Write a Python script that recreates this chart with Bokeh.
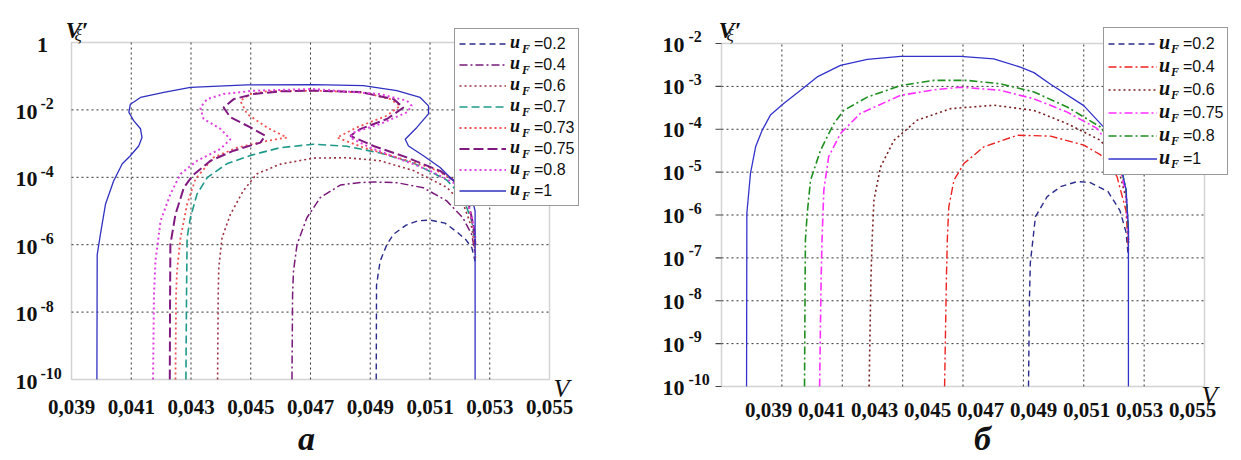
import numpy as np
from bokeh.plotting import figure
from bokeh.models import Range1d, Legend, LegendItem, Label, BoxAnnotation
from bokeh.layouts import row
from bokeh.embed import file_html
from bokeh.resources import INLINE

# ---------------- data ----------------
X_TICKS = [0.039, 0.041, 0.043, 0.045, 0.047, 0.049, 0.051, 0.053, 0.055]
A_Y_EXP = [0, -2, -4, -6, -8, -10]
B_Y_EXP = [-2, -3, -4, -5, -6, -7, -8, -9, -10]

A_LABELS = ["=0.2", "=0.4", "=0.6", "=0.7", "=0.73", "=0.75", "=0.8", "=1"]
B_LABELS = ["=0.2", "=0.4", "=0.6", "=0.75", "=0.8", "=1"]

# panel a : x values and log10(V'xi)
A_U02_X = [0.04920, 0.04921, 0.04933, 0.04956, 0.04978, 0.05020, 0.05060, 0.05100, 0.05150, 0.05190, 0.05220, 0.05240, 0.05251]
A_U02_LG = [-10.0, -7.20, -6.49, -5.99, -5.69, -5.42, -5.29, -5.27, -5.36, -5.62, -5.85, -6.09, -6.49]

A_U04_X = [0.04638, 0.04640, 0.04643, 0.04655, 0.04688, 0.04733, 0.04800, 0.04860, 0.04911, 0.04989, 0.05078, 0.05156, 0.05210, 0.05240, 0.05252]
A_U04_LG = [-10.0, -7.50, -6.79, -5.99, -5.20, -4.60, -4.23, -4.16, -4.14, -4.16, -4.31, -4.70, -5.20, -5.70, -6.30]

A_U06_X = [0.04389, 0.04391, 0.04393, 0.04404, 0.04432, 0.04475, 0.04520, 0.04599, 0.04710, 0.04822, 0.04933, 0.05045, 0.05156, 0.05212, 0.05240, 0.05252]
A_U06_LG = [-10.0, -7.50, -6.69, -5.79, -5.10, -4.40, -3.90, -3.61, -3.43, -3.42, -3.51, -3.80, -4.30, -4.80, -5.50, -6.20]

A_U07_X = [0.04283, 0.04285, 0.04287, 0.04298, 0.04320, 0.04355, 0.04420, 0.04499, 0.04599, 0.04710, 0.04822, 0.04933, 0.05045, 0.05156, 0.05210, 0.05240, 0.05252]
A_U07_LG = [-10.0, -7.50, -5.79, -5.20, -4.50, -4.00, -3.60, -3.35, -3.12, -3.02, -3.08, -3.28, -3.58, -4.08, -4.60, -5.30, -6.00]

A_U073_X = [0.04248, 0.04250, 0.04253, 0.04265, 0.04287, 0.04315, 0.04376, 0.04454, 0.04554, 0.04621, 0.04554, 0.04488, 0.04465, 0.04499, 0.04554, 0.04710, 0.04877, 0.04967, 0.05000, 0.04956, 0.04855, 0.04789, 0.04878, 0.04989, 0.05101, 0.05179, 0.05225, 0.05245, 0.05252]
A_U073_LG = [-10.0, -7.50, -6.79, -5.79, -4.80, -4.05, -3.41, -3.12, -2.92, -2.82, -2.52, -2.12, -1.73, -1.53, -1.45, -1.43, -1.48, -1.68, -1.88, -2.17, -2.52, -2.82, -3.12, -3.41, -3.71, -4.06, -4.70, -5.50, -6.40]

A_U075_X = [0.04229, 0.04230, 0.04231, 0.04248, 0.04276, 0.04305, 0.04365, 0.04443, 0.04532, 0.04549, 0.04499, 0.04432, 0.04409, 0.04443, 0.04510, 0.04599, 0.04710, 0.04866, 0.04978, 0.05011, 0.04956, 0.04866, 0.04833, 0.04911, 0.05022, 0.05134, 0.05190, 0.05230, 0.05247, 0.05252]
A_U075_LG = [-10.0, -7.50, -5.99, -5.10, -4.31, -3.95, -3.51, -3.21, -2.97, -2.77, -2.52, -2.22, -1.93, -1.68, -1.53, -1.45, -1.43, -1.47, -1.68, -1.93, -2.27, -2.57, -2.77, -3.07, -3.41, -3.81, -4.16, -4.80, -5.50, -6.00]

A_U08_X = [0.04173, 0.04176, 0.04181, 0.04198, 0.04231, 0.04265, 0.04320, 0.04398, 0.04432, 0.04398, 0.04342, 0.04331, 0.04354, 0.04409, 0.04510, 0.04710, 0.04933, 0.05023, 0.05039, 0.05023, 0.04933, 0.04844, 0.04833, 0.04900, 0.05000, 0.05101, 0.05178, 0.05228, 0.05246, 0.05252]
A_U08_LG = [-10.0, -7.50, -6.49, -5.30, -4.50, -3.90, -3.51, -3.16, -2.87, -2.56, -2.27, -1.93, -1.68, -1.53, -1.43, -1.38, -1.53, -1.73, -1.88, -2.07, -2.42, -2.67, -2.82, -3.12, -3.46, -3.81, -4.16, -4.80, -5.40, -5.80]

A_U1_X = [0.03985, 0.03986, 0.03997, 0.04014, 0.04041, 0.04070, 0.04097, 0.04125, 0.04136, 0.04131, 0.04108, 0.04092, 0.04097, 0.04131, 0.04209, 0.04298, 0.04488, 0.04710, 0.04877, 0.04989, 0.05067, 0.05095, 0.05095, 0.05056, 0.05017, 0.05028, 0.05078, 0.05134, 0.05179, 0.05234, 0.05251, 0.05251]
A_U1_LG = [-10.0, -6.30, -5.68, -4.79, -4.11, -3.60, -3.36, -3.07, -2.82, -2.56, -2.32, -2.07, -1.83, -1.63, -1.48, -1.33, -1.26, -1.25, -1.28, -1.43, -1.63, -1.88, -2.12, -2.52, -2.87, -3.07, -3.36, -3.71, -4.11, -4.40, -5.00, -10.0]

# panel b
B_U02_X = [0.04917, 0.04920, 0.04923, 0.04940, 0.04979, 0.05023, 0.05078, 0.05120, 0.05180, 0.05220, 0.05240, 0.05248]
B_U02_LG = [-10.0, -8.00, -7.12, -6.04, -5.57, -5.34, -5.22, -5.24, -5.45, -5.90, -6.40, -7.00]

B_U04_X = [0.04639, 0.04645, 0.04648, 0.04653, 0.04670, 0.04703, 0.04769, 0.04880, 0.04990, 0.05100, 0.05156, 0.05210, 0.05240, 0.05249]
B_U04_LG = [-10.0, -7.50, -6.58, -5.81, -5.19, -4.80, -4.41, -4.14, -4.16, -4.37, -4.60, -5.10, -5.90, -6.90]

B_U06_X = [0.04389, 0.04395, 0.04399, 0.04405, 0.04427, 0.04471, 0.04548, 0.04659, 0.04802, 0.04935, 0.05045, 0.05156, 0.05210, 0.05240, 0.05249]
B_U06_LG = [-10.0, -7.50, -6.58, -5.65, -4.88, -4.26, -3.79, -3.52, -3.44, -3.56, -3.87, -4.26, -4.80, -5.60, -6.70]

B_U075_X = [0.04225, 0.04230, 0.04233, 0.04239, 0.04255, 0.04294, 0.04360, 0.04493, 0.04604, 0.04692, 0.04824, 0.04935, 0.05045, 0.05144, 0.05210, 0.05240, 0.05249]
B_U075_LG = [-10.0, -7.50, -6.58, -5.42, -4.64, -4.10, -3.63, -3.21, -3.08, -3.02, -3.09, -3.29, -3.60, -3.98, -4.60, -5.50, -6.60]

B_U08_X = [0.04175, 0.04177, 0.04178, 0.04184, 0.04195, 0.04228, 0.04272, 0.04305, 0.04383, 0.04493, 0.04604, 0.04714, 0.04824, 0.04935, 0.05045, 0.05156, 0.05210, 0.05240, 0.05249]
B_U08_LG = [-10.0, -7.50, -6.58, -5.96, -5.19, -4.49, -3.87, -3.56, -3.25, -2.98, -2.86, -2.86, -2.94, -3.13, -3.48, -3.95, -4.50, -5.40, -6.50]

B_U1_X = [0.03983, 0.03984, 0.03996, 0.04013, 0.04035, 0.04062, 0.04106, 0.04162, 0.04217, 0.04294, 0.04383, 0.04493, 0.04692, 0.04802, 0.04890, 0.04935, 0.04990, 0.05100, 0.05166, 0.05215, 0.05240, 0.05248, 0.05248]
B_U1_LG = [-10.0, -5.96, -5.03, -4.41, -4.02, -3.67, -3.40, -3.09, -2.78, -2.51, -2.37, -2.30, -2.30, -2.36, -2.55, -2.68, -2.95, -3.45, -3.95, -4.60, -5.40, -6.30, -10.0]

# ---------------- styles ----------------
A_SERIES = [
    (A_U02_X, A_U02_LG, "#2b2b8c", "6 4", 1.4),
    (A_U04_X, A_U04_LG, "#7a1a7a", "8 3 2 3", 1.5),
    (A_U06_X, A_U06_LG, "#9a3040", "2 3", 1.6),
    (A_U07_X, A_U07_LG, "#1e9a8a", "8 4", 1.6),
    (A_U073_X, A_U073_LG, "#f05050", "2 3", 1.8),
    (A_U075_X, A_U075_LG, "#801a80", "10 4", 2.0),
    (A_U08_X, A_U08_LG, "#e040e0", "2 3", 2.0),
    (A_U1_X, A_U1_LG, "#3030c0", None, 1.3),
]
B_SERIES = [
    (B_U02_X, B_U02_LG, "#2b2b8c", "6 4", 1.4),
    (B_U04_X, B_U04_LG, "#ee2222", "8 3 2 3", 1.4),
    (B_U06_X, B_U06_LG, "#7a2020", "2 3", 1.6),
    (B_U075_X, B_U075_LG, "#ff30ff", "8 3 2 3", 1.6),
    (B_U08_X, B_U08_LG, "#1f8f1f", "8 3 2 3", 1.6),
    (B_U1_X, B_U1_LG, "#3333cc", None, 1.3),
]

SERIF = "Liberation Serif"
SANS = "Liberation Sans"
TXT = "#111111"
FRAME = "#6e6e6e"
GRID = "#333333"

# plot-box geometry inside each figure (figure-local pixels)
GA = dict(W=620, H=460, fl=71, fr=549, ft=42, fb=379, x0=0.039, x1=0.055, lt=0.0, lb=-10.0)
GB = dict(W=621, H=460, fl=101, fr=584, ft=43, fb=386, x0=0.039, x1=0.055, lt=-2.0, lb=-10.0)


def p2d(g, px, py):
    x = g["x0"] + (px - g["fl"]) / (g["fr"] - g["fl"]) * (g["x1"] - g["x0"])
    lg = g["lt"] + (py - g["ft"]) / (g["fb"] - g["ft"]) * (g["lb"] - g["lt"])
    return x, 10.0 ** lg


def txt(p, g, px, py, text, size, style="bold", font=SERIF, align="left",
        baseline="alphabetic", color=TXT):
    x, y = p2d(g, px, py)
    p.add_layout(Label(x=x, y=y, text=text, text_font=font,
                       text_font_size=f"{size}px", text_font_style=style,
                       text_align=align, text_baseline=baseline,
                       text_color=color))


def make_fig(g, y_exp, grid_x):
    xa, ya_top = p2d(g, 0, 0)
    xb, ya_bot = p2d(g, g["W"], g["H"])
    p = figure(width=g["W"], height=g["H"], y_axis_type="log",
               x_range=Range1d(xa, xb), y_range=Range1d(ya_bot, ya_top),
               x_axis_location=None, y_axis_location=None,
               output_backend="svg", toolbar_location=None,
               min_border=0, min_border_left=0, min_border_right=0,
               min_border_top=0, min_border_bottom=0)
    p.background_fill_color = "white"
    p.border_fill_color = "white"
    p.outline_line_color = None
    p.xgrid.visible = False
    p.ygrid.visible = False
    ymin, ymax = 10.0 ** g["lb"], 10.0 ** g["lt"]
    # dotted grid inside the plot box
    p.segment(x0=grid_x, x1=grid_x, y0=[ymin] * len(grid_x), y1=[ymax] * len(grid_x),
              line_color=GRID, line_dash="2 3", line_width=1)
    yt = [10.0 ** e for e in y_exp[1:-1]]
    p.segment(x0=[g["x0"]] * len(yt), x1=[g["x1"]] * len(yt), y0=yt, y1=yt,
              line_color=GRID, line_dash="2 3", line_width=1)
    return p


def add_series(p, series):
    rs = []
    for xs, lgs, col, dash, w in series:
        ys = np.power(10.0, np.array(lgs))
        kw = dict(line_color=col, line_width=w)
        if dash:
            kw["line_dash"] = dash
        rs.append(p.line(list(xs), list(ys), **kw))
    return rs


def add_box(p, g):
    p.add_layout(BoxAnnotation(left=g["x0"], right=g["x1"], bottom=10.0 ** g["lb"],
                               top=10.0 ** g["lt"], fill_alpha=0, fill_color=None,
                               line_color=FRAME, line_width=1.5))


def add_legend(p, g, rs, labels, box_left, box_top, lab_h, glyph_w, standoff, u_size):
    pad = 4
    n = len(labels)
    box_bottom = box_top + n * lab_h + 2 * pad
    leg = Legend(items=[LegendItem(label=l, renderers=[r]) for l, r in zip(labels, rs)],
                 location=(box_left, g["H"] - box_bottom),
                 orientation="vertical", padding=pad, spacing=0, margin=0,
                 label_height=lab_h, glyph_height=lab_h, glyph_width=glyph_w,
                 label_standoff=standoff, label_text_font=SANS,
                 label_text_font_size="16px", label_text_color=TXT,
                 label_text_baseline="middle",
                 border_line_color="#333333", border_line_width=1,
                 background_fill_color="white", background_fill_alpha=1.0)
    p.add_layout(leg)
    # the "u" and subscript "F" of each entry: one transparent single-entry legend each
    eq_x = box_left + pad + glyph_w + standoff
    ghost = p.line(x=[], y=[], line_alpha=0)
    hh = 32
    for i in range(n):
        cy = box_top + pad + lab_h * (i + 0.5)
        for text, size, dx, dy in (("u", u_size, -23, -2), ("F", "12px", -11, 5)):
            center = cy + dy
            lg2 = Legend(items=[LegendItem(label=text, renderers=[ghost])],
                         location=(eq_x + dx - 1, g["H"] - (center + hh / 2)),
                         orientation="vertical", padding=0, spacing=0, margin=0,
                         label_height=hh, glyph_height=hh, glyph_width=1,
                         label_standoff=0, label_width=1, label_text_font=SERIF,
                         label_text_font_size=size, label_text_font_style="bold italic",
                         label_text_color=TXT, label_text_baseline="middle",
                         border_line_color=None, background_fill_alpha=0.0)
            p.add_layout(lg2)


def xlabel_text(t):
    return f"{t:.3f}".replace(".", ",")


# ---------------- panel a ----------------
pa = make_fig(GA, A_Y_EXP, X_TICKS[1:-1])
ra = add_series(pa, A_SERIES)
add_box(pa, GA)
add_legend(pa, GA, ra, A_LABELS, 454, 30, 21, 47, 28, "18px")

for t in X_TICKS:
    pa.add_layout(Label(x=t, y=p2d(GA, 0, 406)[1], text=xlabel_text(t), text_font=SERIF,
                        text_font_size="21px", text_font_style="bold",
                        text_align="center", text_baseline="middle", text_color=TXT))

for e in A_Y_EXP:
    py = GA["ft"] + (-e) / 10.0 * (GA["fb"] - GA["ft"])
    if e == 0:
        txt(pa, GA, 42, py + 2, "1", 22, align="center", baseline="middle")
    else:
        txt(pa, GA, 37, py + 2, "10", 22, align="right", baseline="middle")
        txt(pa, GA, 40, py - 6, f"{e}", 16, align="left", baseline="middle")

txt(pa, GA, 65, 29, "V\u2032", 24, style="bold italic")
txt(pa, GA, 74, 35, "\u03be", 17, style="italic")
txt(pa, GA, 553, 388, "V", 26, style="italic")
txt(pa, GA, 306, 438, "\u0430", 34, style="bold italic", align="center", baseline="middle")

# ---------------- panel b ----------------
pb = make_fig(GB, B_Y_EXP, X_TICKS[1:-1])
rb = add_series(pb, B_SERIES)
add_box(pb, GB)

# short outward ticks on the left side of the box
tick_x0 = p2d(GB, GB["fl"] - 6, 0)[0]
ytb = [10.0 ** e for e in B_Y_EXP]
pb.segment(x0=[tick_x0] * len(ytb), x1=[GB["x0"]] * len(ytb), y0=ytb, y1=ytb,
           line_color="#444444", line_width=1.2)

add_legend(pb, GB, rb, B_LABELS, 1103 - 620, 29, 23, 49, 26, "20px")

# tick labels of panel b sit slightly compressed under the box, as in the picture
lab_l, lab_r = 768 - 620, 1192 - 620
for t in X_TICKS:
    px = lab_l + (t - GB["x0"]) / (GB["x1"] - GB["x0"]) * (lab_r - lab_l)
    txt(pb, GB, px, 409, xlabel_text(t), 21, align="center", baseline="middle")

for e in B_Y_EXP:
    py = GB["ft"] + (GB["lt"] - e) / (GB["lt"] - GB["lb"]) * (GB["fb"] - GB["ft"])
    txt(pb, GB, 64, py + 1, "10", 22, align="right", baseline="middle")
    txt(pb, GB, 68, py - 7, f"{e}", 16, align="left", baseline="middle")

txt(pb, GB, 98, 29, "V\u2032", 24, style="bold italic")
txt(pb, GB, 106, 35, "\u03be", 17, style="italic")
txt(pb, GB, 581, 395, "V", 26, style="italic")
txt(pb, GB, 362, 438, "\u0431", 34, style="bold italic", align="center", baseline="middle")

layout = row(pa, pb)
open("out.html", "w").write(file_html(layout, INLINE))
